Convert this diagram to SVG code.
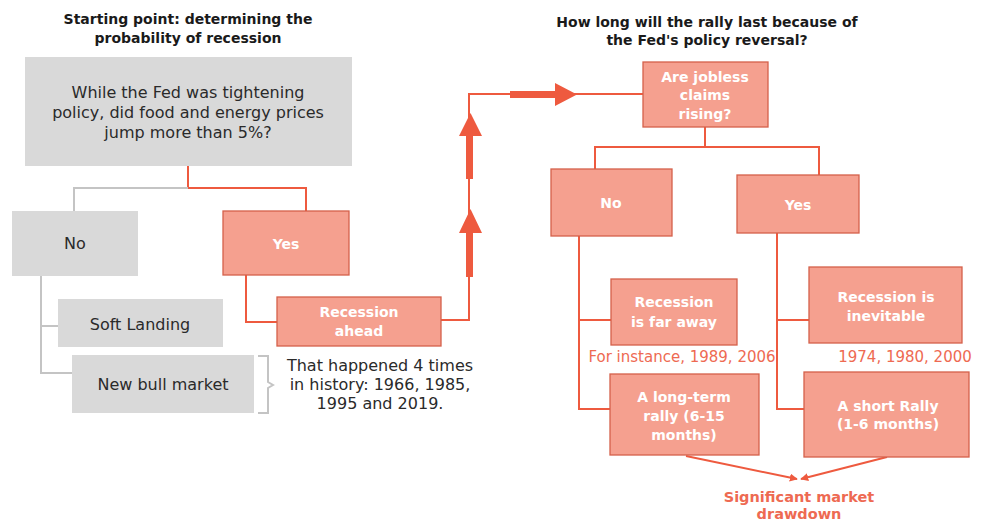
<svg xmlns="http://www.w3.org/2000/svg" width="982" height="522" viewBox="0 0 982 522">
<defs>
<style>
text{font-family:"DejaVu Sans","Open Sans",sans-serif;text-anchor:middle}
.t{font-size:14px;font-weight:700;fill:#1a1a1a}
.g{fill:#d9d9d9}
.gt{font-size:16px;fill:#2a2a2a}
.r{fill:#f5a08f;stroke:#d4604a;stroke-width:1.3}
.rt{font-size:14px;font-weight:700;fill:#ffffff}
.rl{fill:none;stroke:#ee5a3f;stroke-width:2}
.gl{fill:none;stroke:#c4c4c4;stroke-width:2}
.note{font-size:15px;fill:#ee6a52}
.big{fill:#ee5a3f}
.dd{font-size:14.5px;font-weight:700;fill:#ee6a52}
</style>
<marker id="ah" viewBox="0 0 10 10" refX="9" refY="5" markerWidth="8" markerHeight="8" markerUnits="userSpaceOnUse" orient="auto"><path d="M0,0 L10,5 L0,10 z" fill="#ee5a3f"/></marker>
</defs>
<rect width="982" height="522" fill="#ffffff"/>

<g id="title-left">
<text class="t" x="188" y="24">Starting point: determining the</text>
<text class="t" x="188" y="43">probability of recession</text>
</g>
<g id="title-right">
<text class="t" x="707" y="27">How long will the rally last because of</text>
<text class="t" x="707" y="45">the Fed's policy reversal?</text>
</g>

<g id="connectors">
<path class="rl" d="M188,166 V188 H306 V211"/>
<path class="gl" d="M188,188 H74 V211"/>
<path class="gl" d="M41,276 V373 H72 M41,326 H58"/>
<path class="gl" d="M258,356 H268 V382 L273,385 L268,388 V413 H258"/>
<path class="rl" d="M246,275 V322 H277"/>
<path class="rl" d="M441,320 H469 V94 H643"/>
<path class="big" d="M466,277 H473 V233 H482 L470.5,209 L459,233 H466 Z"/>
<path class="big" d="M466,179 H473 V136 H482 L470.5,113 L459,136 H466 Z"/>
<path class="big" d="M510,91 H555 V83 L577,94.5 L555,106 V98 H510 Z"/>
<path class="rl" d="M705,127 V147 M595,169 V147 H819 V175"/>
<path class="rl" d="M579,236 V409 H610 M579,320 H611"/>
<path class="rl" d="M777,233 V409 H804 M777,320 H809"/>
<path class="rl" d="M686,456 L797,479" marker-end="url(#ah)"/>
<path class="rl" d="M887,457 L801,479" marker-end="url(#ah)"/>
</g>

<g id="q1">
<rect class="g" x="25" y="57" width="327" height="109"/>
<text class="gt" x="188" y="98">While the Fed was tightening</text>
<text class="gt" x="188" y="118">policy, did food and energy prices</text>
<text class="gt" x="188" y="138">jump more than 5%?</text>
</g>
<g id="no-left">
<rect class="g" x="12" y="211" width="126" height="65"/>
<text class="gt" x="75" y="249">No</text>
</g>
<g id="yes-left">
<rect class="r" x="223" y="211" width="126" height="64"/>
<text class="rt" x="286" y="249">Yes</text>
</g>
<g id="soft-landing">
<rect class="g" x="58" y="299" width="165" height="48"/>
<text class="gt" x="140" y="330">Soft Landing</text>
</g>
<g id="bull-market">
<rect class="g" x="72" y="355" width="182" height="58"/>
<text class="gt" x="163" y="390">New bull market</text>
</g>
<g id="history-note">
<text class="gt" x="380" y="371">That happened 4 times</text>
<text class="gt" x="380" y="390">in history: 1966, 1985,</text>
<text class="gt" x="380" y="409">1995 and 2019.</text>
</g>
<g id="recession-ahead">
<rect class="r" x="277" y="297" width="164" height="49"/>
<text class="rt" x="359" y="317">Recession</text>
<text class="rt" x="359" y="336">ahead</text>
</g>
<g id="jobless">
<rect class="r" x="643" y="62" width="125" height="65"/>
<text class="rt" x="705" y="82">Are jobless</text>
<text class="rt" x="705" y="100">claims</text>
<text class="rt" x="705" y="119">rising?</text>
</g>
<g id="no-right">
<rect class="r" x="551" y="169" width="121" height="67"/>
<text class="rt" x="611" y="208">No</text>
</g>
<g id="yes-right">
<rect class="r" x="737" y="175" width="122" height="58"/>
<text class="rt" x="798" y="210">Yes</text>
</g>
<g id="far-away">
<rect class="r" x="611" y="279" width="126" height="66"/>
<text class="rt" x="674" y="307">Recession</text>
<text class="rt" x="674" y="327">is far away</text>
</g>
<g id="far-away-note">
<text class="note" x="682" y="362">For instance, 1989, 2006</text>
</g>
<g id="long-term">
<rect class="r" x="610" y="374" width="149" height="81"/>
<text class="rt" x="684" y="402">A long-term</text>
<text class="rt" x="684" y="421">rally (6-15</text>
<text class="rt" x="684" y="440">months)</text>
</g>
<g id="inevitable">
<rect class="r" x="809" y="267" width="153" height="76"/>
<text class="rt" x="886" y="302">Recession is</text>
<text class="rt" x="886" y="321">inevitable</text>
</g>
<g id="inevitable-note">
<text class="note" x="905" y="362">1974, 1980, 2000</text>
</g>
<g id="short-rally">
<rect class="r" x="804" y="372" width="165" height="85"/>
<text class="rt" x="888" y="411">A short Rally</text>
<text class="rt" x="888" y="429">(1-6 months)</text>
</g>
<g id="drawdown">
<text class="dd" x="799" y="502">Significant market</text>
<text class="dd" x="799" y="519">drawdown</text>
</g>
</svg>
